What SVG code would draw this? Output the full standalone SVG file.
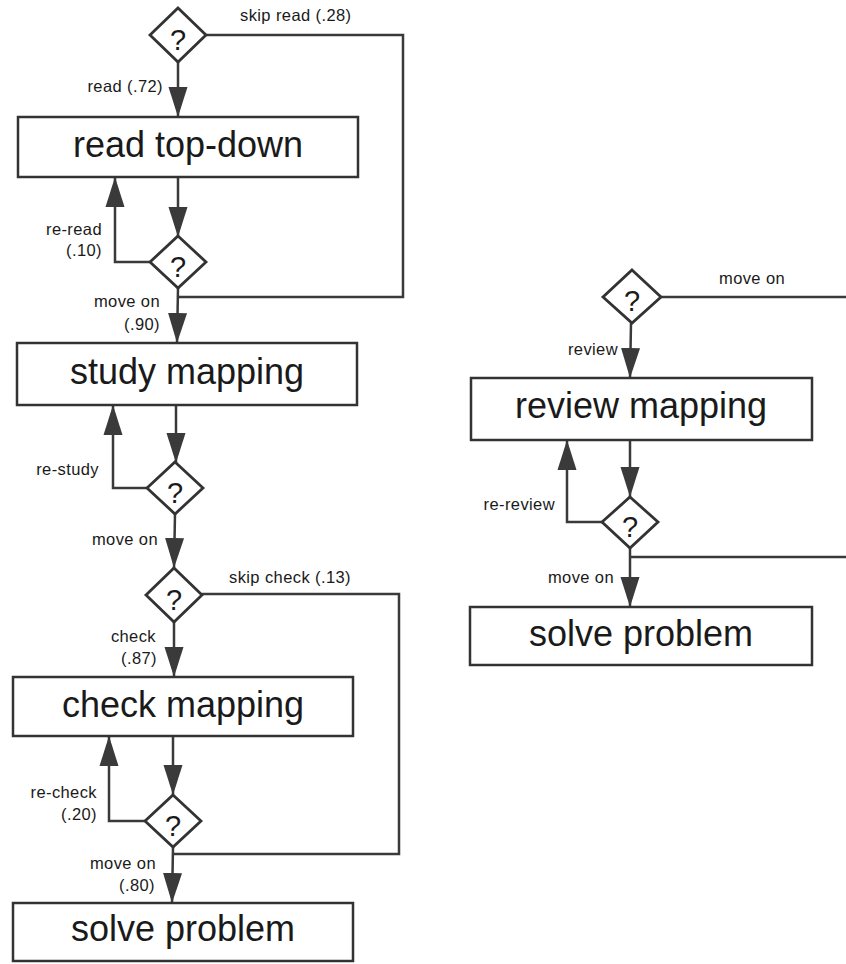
<svg xmlns="http://www.w3.org/2000/svg" width="846" height="964" viewBox="0 0 846 964">
<style>
.box{fill:#fff;stroke:#333;stroke-width:2.5}
.dia{fill:#fff;stroke:#333;stroke-width:2.8}
.ln{fill:none;stroke:#3a3a3a;stroke-width:2.5}
.big{font-family:"Liberation Sans",Arial,sans-serif;font-size:36px;fill:#1a1a1a;text-anchor:middle}
.q{font-family:"Liberation Sans",Arial,sans-serif;font-size:29px;fill:#1a1a1a;text-anchor:middle}
.lb{font-family:"Liberation Sans",Arial,sans-serif;font-size:16.5px;letter-spacing:0.4px;fill:#1a1a1a}
.e{text-anchor:end}
</style>
<defs>
<marker id="ah" viewBox="0 0 30 20" refX="30" refY="10" markerWidth="30" markerHeight="20" markerUnits="userSpaceOnUse" orient="auto">
<path d="M0,0.5 L30,10 L0,19.5 z" fill="#3a3a3a"/>
</marker>
</defs>
<rect width="846" height="964" fill="#fff"/>
<g id="connectors">
<path class="ln" d="M178,62 L178,117" marker-end="url(#ah)"/>
<path class="ln" d="M178,177 L178,237" marker-end="url(#ah)"/>
<path class="ln" d="M150,262 L115,262 L115,177" marker-end="url(#ah)"/>
<path class="ln" d="M206,35 L403,35 L403,297 L178,297"/>
<path class="ln" d="M178,288 L177,343" marker-end="url(#ah)"/>
<path class="ln" d="M176,405 L176,463" marker-end="url(#ah)"/>
<path class="ln" d="M147,488 L113,488 L113,405" marker-end="url(#ah)"/>
<path class="ln" d="M175,514 L174,568" marker-end="url(#ah)"/>
<path class="ln" d="M202,594 L399,594 L399,854 L173,854"/>
<path class="ln" d="M174,622 L174,677" marker-end="url(#ah)"/>
<path class="ln" d="M173,736 L173,795" marker-end="url(#ah)"/>
<path class="ln" d="M145,821 L109,821 L109,736" marker-end="url(#ah)"/>
<path class="ln" d="M173,847 L172,903" marker-end="url(#ah)"/>
<path class="ln" d="M661,297 L846,297"/>
<path class="ln" d="M631,323 L630,378" marker-end="url(#ah)"/>
<path class="ln" d="M630,440 L630,497" marker-end="url(#ah)"/>
<path class="ln" d="M602,522 L567,522 L567,440" marker-end="url(#ah)"/>
<path class="ln" d="M630,548 L630,607" marker-end="url(#ah)"/>
<path class="ln" d="M630,557 L846,557"/>
</g>
<g id="labels">
<text class="lb" x="240" y="21">skip read (.28)</text>
<text class="lb e" x="163" y="92">read (.72)</text>
<text class="lb e" x="102" y="235">re-read</text>
<text class="lb e" x="102" y="256">(.10)</text>
<text class="lb e" x="160" y="307">move on</text>
<text class="lb e" x="160" y="330">(.90)</text>
<text class="lb e" x="99" y="475">re-study</text>
<text class="lb e" x="158" y="545">move on</text>
<text class="lb" x="229" y="583">skip check (.13)</text>
<text class="lb e" x="156" y="642">check</text>
<text class="lb e" x="157" y="664">(.87)</text>
<text class="lb e" x="97" y="798">re-check</text>
<text class="lb e" x="97" y="820">(.20)</text>
<text class="lb e" x="156" y="869">move on</text>
<text class="lb e" x="155" y="891">(.80)</text>
<text class="lb" x="719" y="284">move on</text>
<text class="lb e" x="618" y="355">review</text>
<text class="lb e" x="555" y="510">re-review</text>
<text class="lb e" x="614" y="583">move on</text>
</g>
<g id="d1"><path class="dia" d="M178,8 L206,35 L178,62 L150,35 Z"/><text class="q" x="178" y="50">?</text></g>
<g id="b1"><rect class="box" x="18" y="117" width="340" height="60"/><text class="big" x="188" y="157">read top-down</text></g>
<g id="d2"><path class="dia" d="M178,236 L206,262 L178,288 L150,262 Z"/><text class="q" x="178" y="277">?</text></g>
<g id="b2"><rect class="box" x="17" y="343" width="340" height="62"/><text class="big" x="187" y="384">study mapping</text></g>
<g id="d3"><path class="dia" d="M175,462 L203,488 L175,514 L147,488 Z"/><text class="q" x="175" y="503">?</text></g>
<g id="d4"><path class="dia" d="M174,568 L202,595 L174,622 L146,595 Z"/><text class="q" x="174" y="610">?</text></g>
<g id="b3"><rect class="box" x="13" y="677" width="340" height="59"/><text class="big" x="183" y="717">check mapping</text></g>
<g id="d5"><path class="dia" d="M173,795 L201,821 L173,847 L145,821 Z"/><text class="q" x="173" y="836">?</text></g>
<g id="b4"><rect class="box" x="13" y="903" width="340" height="58"/><text class="big" x="183" y="941">solve problem</text></g>
<g id="d6"><path class="dia" d="M632,270 L661,297 L632,323 L603,297 Z"/><text class="q" x="632" y="311">?</text></g>
<g id="b5"><rect class="box" x="471" y="378" width="341" height="62"/><text class="big" x="641" y="418">review mapping</text></g>
<g id="d7"><path class="dia" d="M630,497 L658,522 L630,548 L602,522 Z"/><text class="q" x="630" y="537">?</text></g>
<g id="b6"><rect class="box" x="470" y="607" width="342" height="58"/><text class="big" x="641" y="646">solve problem</text></g>
</svg>
